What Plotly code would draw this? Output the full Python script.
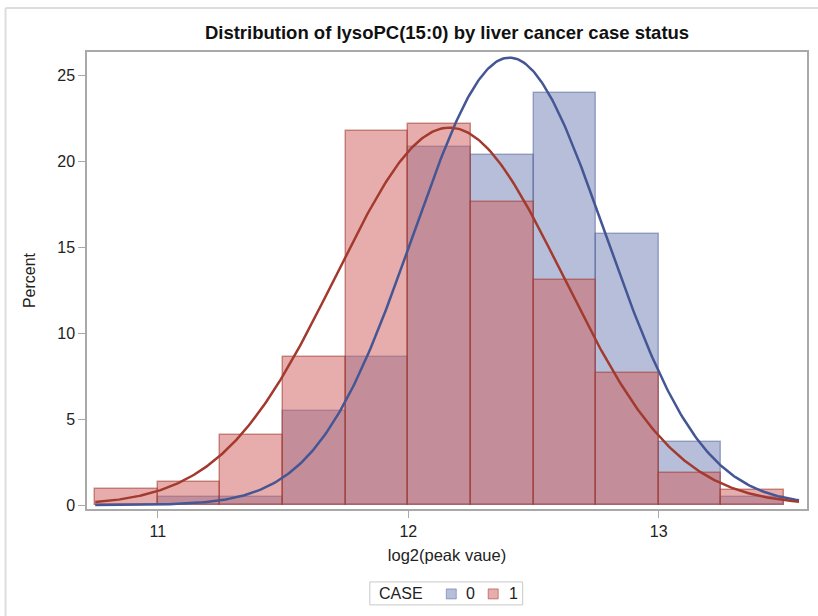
import numpy as np
import plotly.graph_objects as go

# Histogram bins (log2 peak value), width 0.25
bin_left = [10.75, 11.0, 11.25, 11.5, 11.75, 12.0, 12.25, 12.5, 12.75, 13.0, 13.25]
bin_width = 0.25

# Percent of subjects per bin
pct_case0 = [0.0, 0.46, 0.46, 5.45, 8.6, 20.85, 20.4, 24.0, 15.8, 3.65, 0.46]
pct_case1 = [0.91, 1.35, 4.1, 8.6, 21.75, 22.2, 17.65, 13.1, 7.7, 1.85, 0.9]

# Fitted normal parameters for each group
mu_case0, sd_case0 = 12.404, 0.383
mu_case1, sd_case1 = 12.164, 0.454

case_labels = ["0", "1"]
fill_colors = ["rgba(111,126,179,0.5)", "rgba(208,91,91,0.5)"]
edge_colors = ["rgba(68,86,148,0.45)", "rgba(162,58,46,0.55)"]
curve_colors = ["#445694", "#A23A2E"]

centers = [b + bin_width / 2 for b in bin_left]

def normal_percent(x, mu, sd):
    return 100 * bin_width * np.exp(-0.5 * ((x - mu) / sd) ** 2) / (sd * np.sqrt(2 * np.pi))

xs = np.linspace(10.75, 13.56, 400)

FONT = "Liberation Sans, Arial, sans-serif"
TXT = "#222"

fig = go.Figure()
for pct, lab, fc, ec in zip([pct_case0, pct_case1], case_labels, fill_colors, edge_colors):
    fig.add_trace(go.Bar(
        x=centers, y=pct, width=bin_width, name=lab, showlegend=False,
        marker=dict(color=fc, line=dict(color=ec, width=1.5)),
    ))
for (mu, sd), col in zip([(mu_case0, sd_case0), (mu_case1, sd_case1)], curve_colors):
    fig.add_trace(go.Scatter(
        x=xs, y=normal_percent(xs, mu, sd), mode="lines",
        line=dict(color=col, width=2.5), showlegend=False, hoverinfo="skip",
    ))

axis_common = dict(
    showline=True, linecolor="#a9a9a9", linewidth=1.5, mirror=True,
    showgrid=False, zeroline=False, ticks="outside", ticklen=7,
    tickcolor="#a9a9a9", tickwidth=1,
    tickfont=dict(family=FONT, size=16, color=TXT),
)

# Outer frame of the graph area
shapes = [
    dict(type="line", xref="paper", yref="paper", x0=-0.1131, x1=1.125,
         y0=1.0962, y1=1.0962, line=dict(color="#dddddd", width=2)),
    dict(type="line", xref="paper", yref="paper", x0=-0.1131, x1=-0.1131,
         y0=1.0962, y1=-0.24, line=dict(color="#dddddd", width=2)),
]

# Legend box below the plot: "CASE" followed by a swatch per group
shapes.append(dict(type="rect", xref="paper", yref="paper",
                   x0=0.3928, x1=0.6051, y0=-0.2098, y1=-0.1596,
                   line=dict(color="#c8c8c8", width=1), fillcolor="white"))
annotations = [dict(text="CASE", xref="paper", yref="paper", x=0.4025, y=-0.1847,
                    xanchor="left", yanchor="middle", showarrow=False,
                    font=dict(family=FONT, size=16, color=TXT))]
swatch_x = [0.4990, 0.5572]
label_x = [0.5232, 0.5829]
for sx, lx, lab, fc, ec in zip(swatch_x, label_x, case_labels, fill_colors, edge_colors):
    shapes.append(dict(type="rect", xref="paper", yref="paper",
                       x0=sx, x1=sx + 0.0139, y0=-0.1967, y1=-0.1749,
                       line=dict(color=ec, width=1), fillcolor=fc))
    annotations.append(dict(text=lab, xref="paper", yref="paper", x=lx, y=-0.1847,
                            xanchor="left", yanchor="middle", showarrow=False,
                            font=dict(family=FONT, size=16, color=TXT)))

fig.update_layout(
    width=818, height=616,
    margin=dict(l=87, r=10.5, t=51.5, b=107, autoexpand=False),
    paper_bgcolor="white", plot_bgcolor="white",
    barmode="overlay", bargap=0, showlegend=False,
    font=dict(family=FONT, size=16, color=TXT),
    title=dict(text="<b>Distribution of lysoPC(15:0) by liver cancer case status</b>",
               x=0.5465, xanchor="center", y=0.948, yanchor="middle",
               font=dict(family=FONT, size=18.5, color="#111")),
    xaxis=dict(axis_common, range=[10.717, 13.592], tickvals=[11, 12, 13],
               title=dict(text="log2(peak vaue)", standoff=10,
                          font=dict(family=FONT, size=16.5, color=TXT))),
    yaxis=dict(axis_common, range=[-0.23, 26.37], tickvals=[0, 5, 10, 15, 20, 25],
               title=dict(text="Percent", standoff=18,
                          font=dict(family=FONT, size=16, color=TXT))),
    shapes=shapes,
    annotations=annotations,
)

fig.write_html("out.html")
